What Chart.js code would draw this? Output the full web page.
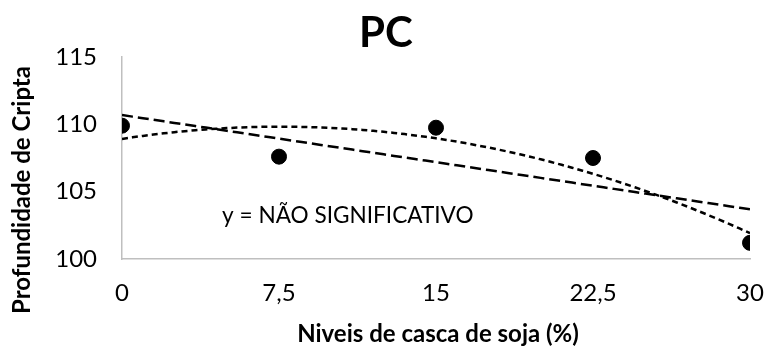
<!DOCTYPE html>
<html><head><meta charset="utf-8">
<script src="https://cdn.jsdelivr.net/npm/chart.js@4.4.1/dist/chart.umd.min.js"></script>
<style>html,body{margin:0;padding:0;background:#fff}#wrap{width:765px;height:347px;position:relative}</style>
</head><body><div id="wrap"><canvas id="c" width="765" height="347"></canvas></div>
<script>
// ---- data ----
const chartTitle = 'PC';
const xAxisTitle = 'Niveis de casca de soja (%)';
const yAxisTitle = 'Profundidade de Cripta';
const annotationText = 'y = NÃO SIGNIFICATIVO';
const levels = [0, 7.5, 15, 22.5, 30];
const depth = [109.9, 107.6, 109.75, 107.5, 101.2];
const xTickLabels = ['0', '7,5', '15', '22,5', '30'];
const yMin = 100, yMax = 115, yStep = 5;

// ---- least-squares trendlines (Excel-style) computed from the data ----
function polyfit(xs, ys, deg) {
  const n = deg + 1;
  const A = Array.from({length: n}, () => new Array(n + 1).fill(0));
  for (let r = 0; r < n; r++) {
    for (let c = 0; c < n; c++) A[r][c] = xs.reduce((s, x) => s + Math.pow(x, r + c), 0);
    A[r][n] = xs.reduce((s, x, i) => s + Math.pow(x, r) * ys[i], 0);
  }
  for (let i = 0; i < n; i++) {
    let p = i;
    for (let k = i + 1; k < n; k++) if (Math.abs(A[k][i]) > Math.abs(A[p][i])) p = k;
    [A[i], A[p]] = [A[p], A[i]];
    for (let k = i + 1; k < n; k++) {
      const f = A[k][i] / A[i][i];
      for (let j = i; j <= n; j++) A[k][j] -= f * A[i][j];
    }
  }
  const coef = new Array(n).fill(0);
  for (let i = n - 1; i >= 0; i--) {
    let s = A[i][n];
    for (let j = i + 1; j < n; j++) s -= A[i][j] * coef[j];
    coef[i] = s / A[i][i];
  }
  return coef;
}
function curve(coef) {
  const pts = [];
  const x0 = levels[0], x1 = levels[levels.length - 1];
  for (let k = 0; k <= 60; k++) {
    const x = x0 + (x1 - x0) * k / 60;
    pts.push({x, y: coef.reduce((s, c, i) => s + c * Math.pow(x, i), 0)});
  }
  return pts;
}
const linCoef = polyfit(levels, depth, 1);
const quadCoef = polyfit(levels, depth, 2);

const FONT = 'Lato';

const textPlugin = {
  id: 'texts',
  afterDraw(chart) {
    const ctx = chart.ctx;
    const xs = chart.scales.x, ys = chart.scales.y;
    ctx.save();
    ctx.fillStyle = '#000';
    ctx.textBaseline = 'alphabetic';
    // chart title
    ctx.font = 'bold 42px ' + FONT;
    ctx.textAlign = 'center';
    ctx.fillText(chartTitle, 386, 47);
    // x axis title
    ctx.font = 'bold 24px ' + FONT;
    ctx.fillText(xAxisTitle, 438, 342);
    // y axis title
    ctx.save();
    ctx.translate(30, 190);
    ctx.rotate(-Math.PI / 2);
    ctx.fillText(yAxisTitle, 0, 0);
    ctx.restore();
    // annotation
    ctx.font = '22.6px ' + FONT;
    ctx.textAlign = 'left';
    ctx.fillText(annotationText, xs.getPixelForValue(4.78), ys.getPixelForValue(102.68));
    ctx.restore();
  }
};

new Chart(document.getElementById('c'), {
  type: 'scatter',
  data: {
    datasets: [
      {
        label: 'Linear',
        type: 'line',
        data: curve(linCoef),
        borderColor: '#000',
        borderWidth: 2.5,
        borderDash: [11, 5],
        pointRadius: 0,
        tension: 0,
        fill: false
      },
      {
        label: 'Polinomial',
        type: 'line',
        data: curve(quadCoef),
        borderColor: '#000',
        borderWidth: 2.5,
        borderDash: [6, 4],
        pointRadius: 0,
        tension: 0,
        fill: false
      },
      {
        label: 'PC',
        data: levels.map((x, i) => ({x, y: depth[i]})),
        backgroundColor: '#000',
        borderColor: '#000',
        pointRadius: 7.5,
        pointHoverRadius: 7.5
      }
    ]
  },
  options: {
    responsive: false,
    animation: false,
    devicePixelRatio: 1,
    layout: {padding: {top: 57, right: 15, left: 0, bottom: 0}},
    plugins: {legend: {display: false}, title: {display: false}, tooltip: {enabled: false}},
    scales: {
      x: {
        type: 'linear',
        min: levels[0],
        max: levels[levels.length - 1],
        afterBuildTicks: s => { s.ticks = levels.map(v => ({value: v})); },
        afterFit: s => { s.height = 88; s.paddingLeft = 0; s.paddingRight = 0; },
        grid: {display: false, drawTicks: false},
        border: {display: true, color: '#bfbfbf', width: 1.5},
        ticks: {
          color: '#000',
          font: {family: FONT, size: 24},
          padding: 20,
          maxRotation: 0,
          autoSkip: false,
          callback: (v, i) => xTickLabels[i]
        }
      },
      y: {
        min: yMin,
        max: yMax,
        afterFit: s => { s.width = 122; s.paddingTop = 0; s.paddingBottom = 0; },
        grid: {display: false, drawTicks: false},
        border: {display: true, color: '#bfbfbf', width: 1.5},
        ticks: {
          color: '#000',
          stepSize: yStep,
          font: {family: FONT, size: 24},
          padding: 25
        }
      }
    }
  },
  plugins: [textPlugin]
});
</script></body></html>
